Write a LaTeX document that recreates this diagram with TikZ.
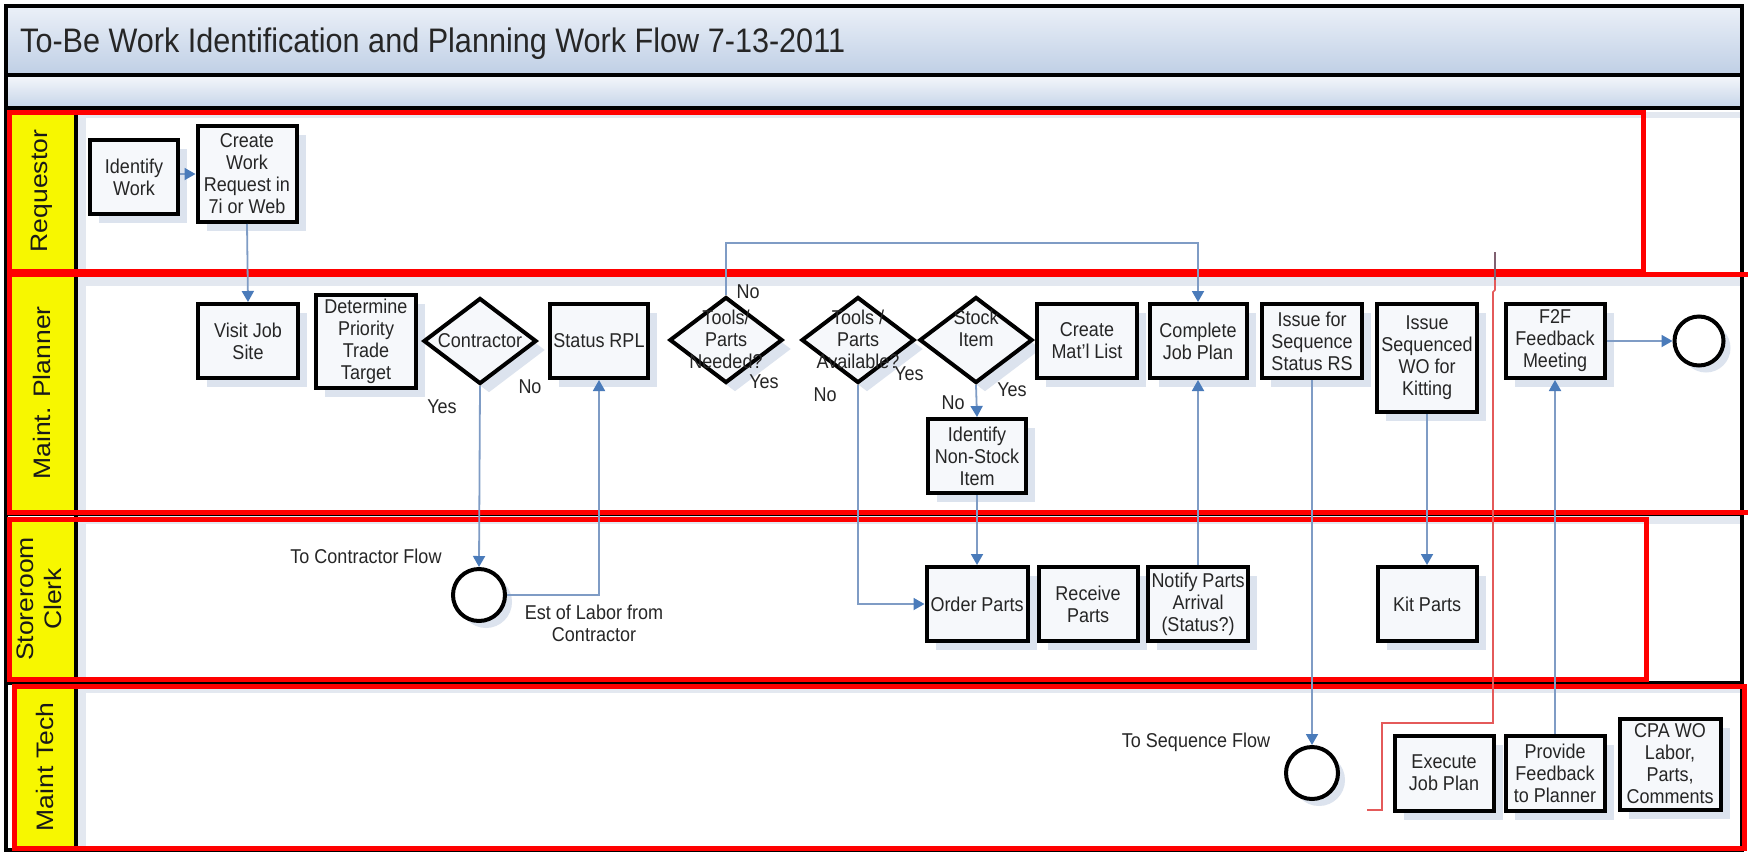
\documentclass[tikz,border=0pt]{standalone}
\usepackage{fontspec}
\setmainfont{Liberation Sans}[FakeStretch=0.9]
\newfontfamily\lanefont{Liberation Sans}
\usetikzlibrary{shapes.geometric, arrows.meta, shadows}
\definecolor{connc}{HTML}{7F9CC5}
\definecolor{arrowc}{HTML}{4A7BBA}
\definecolor{shadec}{HTML}{DCE3EE}
\definecolor{hdrtop}{HTML}{EBF0F8}
\definecolor{hdrbot}{HTML}{BFCFE5}
\definecolor{boxfill}{HTML}{F6F8FB}
\definecolor{laney}{HTML}{F7F700}
\definecolor{stripc}{HTML}{E3E8F0}
\definecolor{redl}{HTML}{E45A5A}
\definecolor{darkredl}{HTML}{806070}
\newcommand{\boxfont}{\fontsize{20}{22}\selectfont}
\tikzset{
  pbox/.style={draw=black, line width=4pt, fill=boxfill, align=center, font=\boxfont,
    text=black!85, inner sep=1pt,
    drop shadow={shadow xshift=9pt, shadow yshift=-9pt, fill=shadec, opacity=1}},
  pdiam/.style={diamond, draw=black, line width=4pt, fill=boxfill, inner sep=0pt,
    minimum width=113pt, minimum height=86pt,
    drop shadow={shadow xshift=9pt, shadow yshift=-9pt, fill=shadec, opacity=1}},
  pcirc/.style={circle, draw=black, line width=4pt, fill=white, minimum size=49pt, inner sep=0pt,
    drop shadow={shadow xshift=7pt, shadow yshift=-7pt, fill=shadec, opacity=1}},
  dtext/.style={align=center, font=\boxfont, text=black!85, inner sep=0pt},
  lbl/.style={align=center, font=\boxfont, text=black!85, inner sep=0pt},
  conn/.style={draw=connc, line width=1.8pt},
  arr/.style={conn, -{Triangle[width=12pt,length=11pt,color=arrowc]}},
  lanelbl/.style={rotate=90, inner sep=0pt, text=black!90, align=center},
  redbox/.style={draw=red, line width=5pt},
  lanesep/.style={draw=black, line width=4pt},
  redpath/.style={draw=redl, line width=1.6pt}
}
\begin{document}
\begin{tikzpicture}[x=1pt, y=-1pt]
\useasboundingbox (0,0) rectangle (1748,852);
\fill[white] (0,0) rectangle (1748,852);
% header bands
\shade[top color=hdrtop, bottom color=hdrbot] (6,6) rectangle (1742,75);
\shade[top color=hdrtop!50!white, bottom color=hdrbot!90] (6,75) rectangle (1742,108);
\node[anchor=base west, font=\fontsize{34}{40}\selectfont, text=black!85, inner sep=0pt] (title) at (20,52) {To-Be Work Identification and Planning Work Flow 7-13-2011};
% lane label columns
\fill[laney] (9,112) rectangle (75,271);
\fill[laney] (9,274) rectangle (75,512);
\fill[laney] (9,519) rectangle (75,679);
\fill[laney] (14,686) rectangle (75,848);
% pale strips
\fill[stripc] (78,112) rectangle (1740,118);
\fill[stripc] (78,276) rectangle (1740,286);
\fill[stripc] (78,516) rectangle (1740,524);
\fill[stripc] (78,685) rectangle (1740,693);
\fill[stripc] (78,112) rectangle (86,848);
% lane separators
\draw[lanesep] (6,75) -- (1742,75);
\draw[lanesep] (6,108) -- (1742,108);
\draw[lanesep] (6,275) -- (1742,275);
\draw[lanesep] (6,514) -- (1742,514);
\draw[lanesep] (6,683) -- (1742,683);
\draw[lanesep] (76,108) -- (76,850);
\draw[draw=black, line width=4pt] (6,6) rectangle (1742,850);
% lane labels
\node[lanelbl] (lreq) at (42,191) {\scalebox{1}[0.9]{\lanefont\fontsize{26.5}{30}\selectfont Requestor}};
\node[lanelbl] (lpl) at (42,393) {\scalebox{1}[0.9]{\lanefont\fontsize{26.5}{30}\selectfont Maint. Planner}};
\node[lanelbl] (lst) at (42,599) {\scalebox{1}[0.9]{\lanefont\fontsize{26.5}{31}\selectfont\begin{tabular}{@{}c@{}}Storeroom\\Clerk\end{tabular}}};
\node[lanelbl] (lmt) at (45,767) {\scalebox{1}[0.9]{\lanefont\fontsize{26.5}{30}\selectfont Maint Tech}};
% red frames
\draw[redbox] (9,112) rectangle (1643,271);
\draw[redbox] (9,274) rectangle (1760,512);
\draw[redbox] (9,519) rectangle (1646,679);
\draw[redbox] (14,686) rectangle (1744,848);
% red path
\draw[draw=darkredl, line width=1.6pt] (1495,252) -- (1495,280);
\draw[redpath] (1495,280) -- (1495,290) -- (1493,292) -- (1493,723) -- (1382,723) -- (1382,810) -- (1367,810);
% Requestor
\node[pbox, minimum width=88pt, minimum height=74pt] (idw) at (134,177) {Identify\\Work};
\node[pbox, minimum width=99pt, minimum height=96pt] (cwr) at (247,174) {Create\\Work\\Request in\\7i or Web};
% Planner
\node[pbox, minimum width=100pt, minimum height=74pt] (vjs) at (248,341) {Visit Job\\Site};
\node[pbox, minimum width=100pt, minimum height=93pt] (dpt) at (366,341) {Determine\\Priority\\Trade\\Target};
\node[pdiam] (contr) at (480,341) {};
\node[dtext] (contrt) at (480,341) {Contractor};
\node[pbox, minimum width=98pt, minimum height=74pt] (srpl) at (599,341) {Status RPL};
\node[pdiam] (tn) at (726,340) {};
\node[dtext] (tnt) at (726,339) {Tools/\\Parts\\Needed?};
\node[pdiam] (ta) at (858,340) {};
\node[dtext] (tat) at (858,339) {Tools /\\Parts\\Available?};
\node[pdiam] (si) at (976,340) {};
\node[dtext] (sit) at (976,328) {Stock\\Item};
\node[pbox, minimum width=98pt, minimum height=74pt] (ins) at (977,456) {Identify\\Non-Stock\\Item};
\node[pbox, minimum width=100pt, minimum height=74pt] (cml) at (1087,341) {Create\\Mat'l List};
\node[pbox, minimum width=97pt, minimum height=74pt] (cjp) at (1198,341) {Complete\\Job Plan};
\node[pbox, minimum width=100pt, minimum height=74pt] (ifs) at (1312,341) {Issue for\\Sequence\\Status RS};
\node[pbox, minimum width=100pt, minimum height=108pt] (isw) at (1427,358) {Issue\\Sequenced\\WO for\\Kitting};
\node[pbox, minimum width=99pt, minimum height=74pt] (f2f) at (1555,341) {F2F\\Feedback\\Meeting};
\node[pcirc] (endc) at (1699,341) {};
% Storeroom
\node[pcirc, minimum size=52pt] (cflow) at (479,595) {};
\node[pbox, minimum width=101pt, minimum height=74pt] (op) at (977,604) {Order Parts};
\node[pbox, minimum width=99pt, minimum height=74pt] (rp) at (1088,604) {Receive\\Parts};
\node[pbox, minimum width=100pt, minimum height=74pt] (np) at (1198,604) {Notify Parts\\Arrival\\(Status?)};
\node[pbox, minimum width=99pt, minimum height=74pt] (kp) at (1427,604) {Kit Parts};
% Maint Tech
\node[pcirc, minimum size=52pt] (sflow) at (1312,773) {};
\node[pbox, minimum width=99pt, minimum height=75pt] (ejp) at (1444,773) {Execute\\Job Plan};
\node[pbox, minimum width=99pt, minimum height=75pt] (pfp) at (1555,773) {Provide\\Feedback\\to Planner};
\node[pbox, minimum width=101pt, minimum height=91pt] (cpa) at (1670,764) {CPA WO\\Labor,\\Parts,\\Comments};
% labels
\node[lbl] (lno1) at (530,387) {No};
\node[lbl] (lyes1) at (442,407) {Yes};
\node[lbl] (lno2) at (748,292) {No};
\node[lbl] (lyes2) at (764,382) {Yes};
\node[lbl] (lno3) at (825,395) {No};
\node[lbl] (lyes3) at (909,374) {Yes};
\node[lbl] (lno4) at (953,403) {No};
\node[lbl] (lyes4) at (1012,390) {Yes};
\node[lbl] (lcf) at (366,556) {To Contractor Flow};
\node[lbl] (lest) at (594,623) {Est of Labor from\\Contractor};
\node[lbl] (lsf) at (1196,742) {To Sequence Flow};
% connectors
\coordinate (looptop) at (0,243);
\draw[arr] (idw.east |- cwr.west) -- (cwr.west);
\draw[arr] (cwr.south) -- (vjs.north);
\draw[arr] (contr.south) -- (cflow.north);
\draw[arr] (cflow.east) -| (srpl.south);
\draw[arr] (tn.north) -- (tn.north |- looptop) -| (cjp.north);
\draw[arr] (ta.south) |- (op.west);
\draw[arr] (si.south) -- (ins.north);
\draw[arr] (ins.south) -- (op.north);
\draw[arr] (np.north) -- (cjp.south);
\draw[arr] (ifs.south) -- (sflow.north);
\draw[arr] (isw.south) -- (kp.north);
\draw[arr] (pfp.north) -- (f2f.south);
\draw[arr] (f2f.east) -- (endc.west);
\end{tikzpicture}
\end{document}
